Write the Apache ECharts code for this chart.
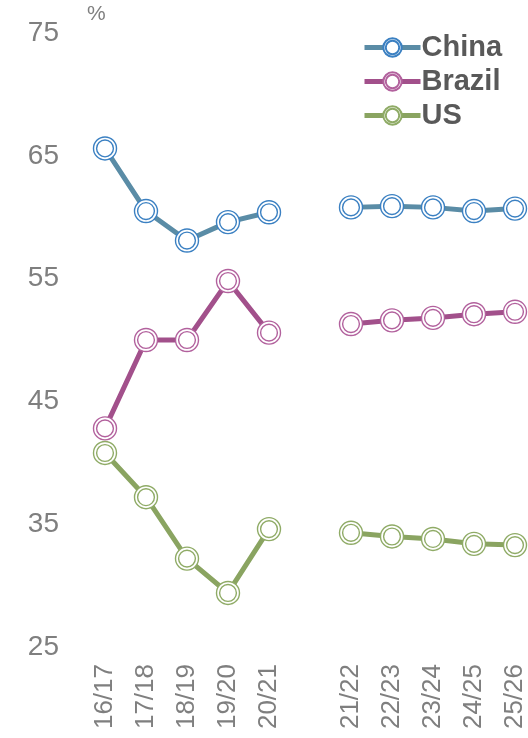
<!DOCTYPE html>
<html>
<head>
<meta charset="utf-8">
<script src="https://cdn.jsdelivr.net/npm/echarts@6/dist/echarts.min.js"></script>
<style>
  html, body { margin: 0; padding: 0; background: #fff; }
  #chart { width: 528px; height: 738px; }
</style>
</head>
<body>
<div id="chart"></div>
<script>
// Marketing years; the blank slot separates history from projections
const years = ['16/17', '17/18', '18/19', '19/20', '20/21', '', '21/22', '22/23', '23/24', '24/25', '25/26'];

// Share, in percent
const china  = [65.6, 60.5, 58.1, 59.6, 60.4, '-', 60.8, 60.9, 60.8, 60.5, 60.7];
const brazil = [42.8, 50.0, 50.0, 54.8, 50.6, '-', 51.3, 51.6, 51.8, 52.1, 52.3];
const us     = [40.8, 37.2, 32.2, 29.4, 34.6, '-', 34.3, 34.0, 33.8, 33.4, 33.3];

const yTicks = { min: 25, max: 75, step: 10 };

// Double ring marker: stroke draws both circles, white fill hides the line behind
const ring = 'path://M0,-10A10,10,0,1,1,0,10A10,10,0,1,1,0,-10ZM0,-7.3A7.3,7.3,0,1,1,0,7.3A7.3,7.3,0,1,1,0,-7.3Z';

const font = '"Liberation Sans", Arial, sans-serif';

function lineSeries(name, data, lineColor, markColor) {
  return {
    name: name,
    type: 'line',
    data: data,
    connectNulls: false,
    symbol: ring,
    symbolSize: 23,
    showAllSymbol: true,
    lineStyle: { color: lineColor, width: 5 },
    itemStyle: { color: '#ffffff', borderColor: markColor, borderWidth: 1.4 },
    emphasis: { disabled: true },
    z: 2
  };
}

const chart = echarts.init(document.getElementById('chart'), null, { renderer: 'canvas' });
chart.setOption({
  animation: false,
  backgroundColor: '#ffffff',
  title: {
    text: '%',
    left: 87,
    top: 4,
    padding: 0,
    textStyle: { fontFamily: font, fontSize: 21, fontWeight: 'normal', color: '#7f7f7f' }
  },
  legend: {
    orient: 'vertical',
    left: 362,
    top: 33,
    padding: 0,
    itemWidth: 56,
    itemHeight: 23,
    itemGap: 5,
    data: ['China', 'Brazil', 'US'],
    lineStyle: { width: 5 },
    textStyle: { fontFamily: font, fontSize: 29, fontWeight: 'bold', color: '#595959', lineHeight: 29, padding: [0, 0, 0, -4] }
  },
  grid: { left: 105, right: 13, top: 33, bottom: 91, containLabel: false },
  xAxis: {
    type: 'category',
    data: years,
    boundaryGap: false,
    axisLine: { show: false },
    axisTick: { show: false },
    splitLine: { show: false },
    axisLabel: {
      interval: 0,
      rotate: 90,
      margin: 17,
      fontFamily: font,
      fontSize: 26,
      color: '#7f7f7f'
    }
  },
  yAxis: {
    type: 'value',
    min: yTicks.min,
    max: yTicks.max,
    interval: yTicks.step,
    axisLine: { show: false },
    axisTick: { show: false },
    splitLine: { show: false },
    axisLabel: {
      margin: 46,
      fontFamily: font,
      fontSize: 28,
      color: '#7f7f7f'
    }
  },
  series: [
    lineSeries('China', china, '#5a8ca6', '#3b80c2'),
    lineSeries('Brazil', brazil, '#a2508b', '#b2619d'),
    lineSeries('US', us, '#8aa461', '#8fab66')
  ]
});
</script>
</body>
</html>
